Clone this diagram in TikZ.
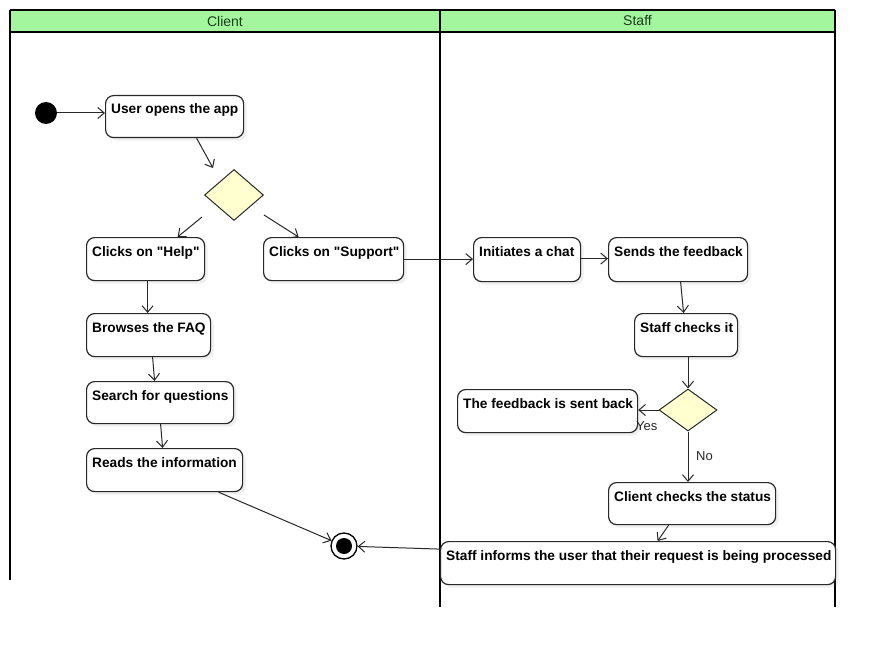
\documentclass[tikz,border=0pt]{standalone}
\usepackage{fontspec}
\setmainfont{Liberation Sans}
\usetikzlibrary{arrows.meta,shapes.geometric,calc,shadows}
\definecolor{hdrgreen}{RGB}{163,246,158}
\definecolor{hdrtext}{RGB}{30,60,30}
\definecolor{decfill}{RGB}{255,255,208}
\definecolor{ink}{RGB}{40,40,40}
\begin{document}
\begin{tikzpicture}[x=1pt,y=-1pt,
  act/.style={draw=ink, line width=1.2pt, rounded corners=8pt, fill=white, anchor=north west, inner sep=0pt,
    drop shadow={opacity=0.12, shadow xshift=3pt, shadow yshift=-3pt}},
  lbl/.style={anchor=base west, inner sep=0pt, font=\bfseries\fontsize{13.7}{16}\selectfont, text=black},
  dec/.style={diamond, draw=ink, line width=1pt, fill=decfill, inner sep=0pt, minimum width=59pt, minimum height=51pt},
  arr/.style={draw=ink, line width=1pt, -{Straight Barb[length=6.5pt,width=11pt,line width=1pt]}},
  lane/.style={draw=black, line width=2pt},
  hdrtxt/.style={font=\fontsize{14}{16}\selectfont, text=hdrtext, inner sep=0pt},
  guard/.style={font=\fontsize{13}{15}\selectfont, text=ink, inner sep=0pt, anchor=base west}
]
\useasboundingbox (0,0) rectangle (878,650);
\fill[white] (0,0) rectangle (878,650);

% swimlanes
\fill[hdrgreen] (10,10) rectangle (835,32);
\draw[lane] (10,10) -- (835,10);
\draw[lane] (10,32) -- (835,32);
\draw[lane] (10,10) -- (10,580);
\draw[lane] (440,10) -- (440,607);
\draw[lane] (835,10) -- (835,607);
\node[hdrtxt] (client) at (225,21) {Client};
\node[hdrtxt] (staff) at (637.5,21) {Staff};

% start / end
\node[circle, fill=black, minimum size=22pt, inner sep=0pt] (start) at (46,113) {};
\node[circle, draw=black, line width=1.3pt, fill=white, minimum size=26pt, inner sep=0pt] (endc) at (344,546) {};
\node[circle, fill=black, minimum size=16pt, inner sep=0pt] (endin) at (endc) {};

% client actions
\node[act, minimum width=138pt, minimum height=42pt] (user) at (105,95) {};
\node[lbl] (user-t) at ($(user.north west)+(6,19)$) {User opens the app};
\node[dec] (d1) at (234,195) {};
\node[act, minimum width=118pt, minimum height=43pt] (help) at (86,237) {};
\node[lbl] (help-t) at ($(help.north west)+(6,19)$) {Clicks on \textquotedbl Help\textquotedbl};
\node[act, minimum width=140pt, minimum height=43pt] (support) at (263,237) {};
\node[lbl] (support-t) at ($(support.north west)+(6,19)$) {Clicks on \textquotedbl Support\textquotedbl};
\node[act, minimum width=124pt, minimum height=43pt] (faq) at (86,313) {};
\node[lbl] (faq-t) at ($(faq.north west)+(6,19)$) {Browses the FAQ};
\node[act, minimum width=147pt, minimum height=42pt] (search) at (86,381) {};
\node[lbl] (search-t) at ($(search.north west)+(6,19)$) {Search for questions};
\node[act, minimum width=156pt, minimum height=43pt] (reads) at (86,448) {};
\node[lbl] (reads-t) at ($(reads.north west)+(6,19)$) {Reads the information};

% staff actions
\node[act, minimum width=107pt, minimum height=44pt] (chat) at (473,237) {};
\node[lbl] (chat-t) at ($(chat.north west)+(6,19)$) {Initiates a chat};
\node[act, minimum width=139pt, minimum height=44pt] (sends) at (608,237) {};
\node[lbl] (sends-t) at ($(sends.north west)+(6,19)$) {Sends the feedback};
\node[act, minimum width=103pt, minimum height=43pt] (checks) at (634,313) {};
\node[lbl] (checks-t) at ($(checks.north west)+(6,19)$) {Staff checks it};
\node[dec, minimum width=58pt, minimum height=42pt] (d2) at (688,410) {};
\node[act, minimum width=180pt, minimum height=43pt] (back) at (457,389) {};
\node[lbl] (back-t) at ($(back.north west)+(6,19)$) {The feedback is sent back};
\node[act, minimum width=167pt, minimum height=42pt] (status) at (608,482) {};
\node[lbl] (status-t) at ($(status.north west)+(6,19)$) {Client checks the status};
\node[act, minimum width=395pt, minimum height=43pt] (informs) at (440,541) {};
\node[lbl] (informs-t) at ($(informs.north west)+(6,19)$) {Staff informs the user that their request is being processed};

% connectors
\draw[arr] (start.east) -- (start.east -| user.west);
\draw[arr] ([xshift=22pt]user.south) -- ($(d1.north)+(-21,-1)$);
\draw[arr] ($(d1)+(-32,22)$) -- ([xshift=32pt]help.north);
\draw[arr] ($(d1)+(30,20)$) -- ([xshift=-35pt]support.north);
\draw[arr] ([xshift=2pt]help.south) -- ([xshift=-1pt]faq.north);
\draw[arr] ([xshift=4pt]faq.south) -- ([xshift=-5.5pt]search.north);
\draw[arr] ([xshift=0.5pt]search.south) -- ([xshift=-2pt]reads.north);
\draw[arr] ([xshift=54pt]reads.south) -- (endc);
\draw[arr] (support.east) -- (support.east -| chat.west);
\draw[arr] ([yshift=1pt]chat.east) -- ([yshift=1pt]chat.east -| sends.west);
\draw[arr] ([xshift=2.5pt]sends.south) -- ([xshift=-2.5pt]checks.north);
\draw[arr] (checks.south -| d2.north) -- (d2.north);
\draw[arr] (d2.west) -- (d2.west -| back.east);
\draw[arr] (d2.south) -- (d2.south |- status.north);
\draw[arr] ([xshift=-23.5pt]status.south) -- ([xshift=19.5pt]informs.north);
\draw[arr] ([yshift=14pt]informs.west) -- (endc);

% guards
\node[guard] (yes) at (636,430) {Yes};
\node[guard] (no) at (696,460) {No};
\end{tikzpicture}
\end{document}
